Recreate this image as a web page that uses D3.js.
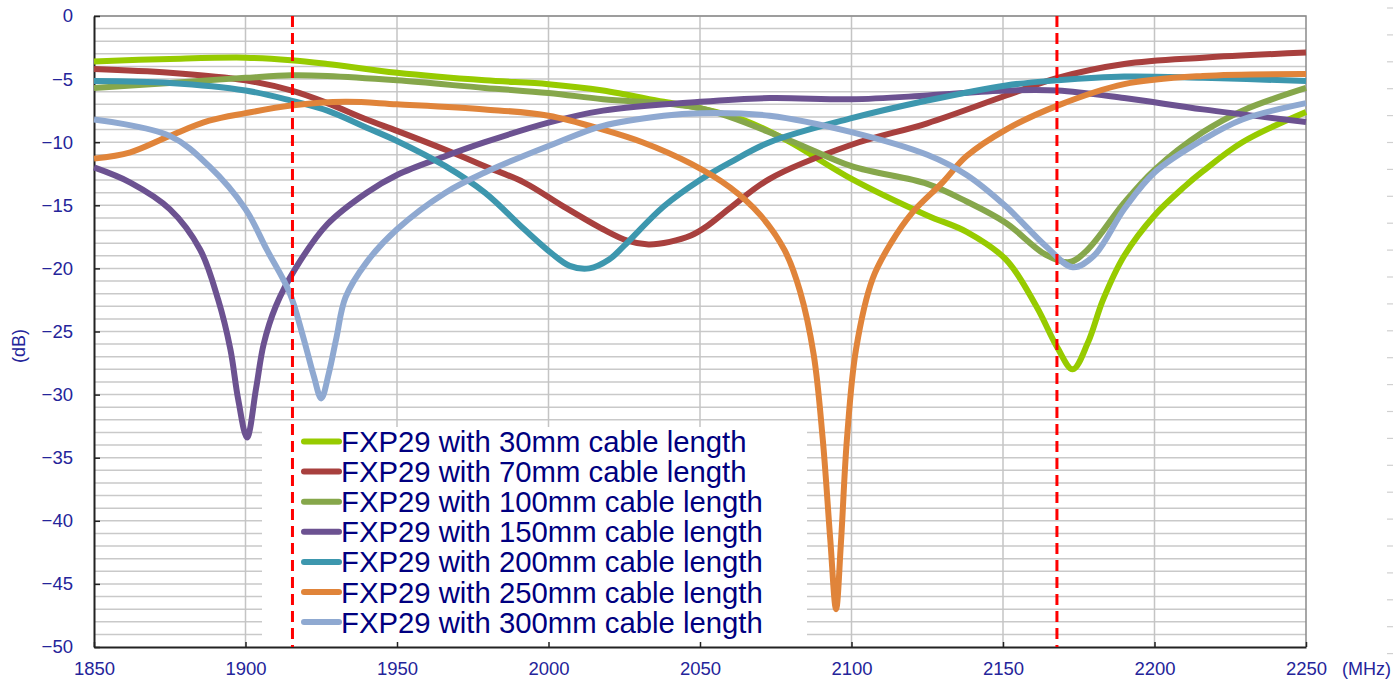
<!DOCTYPE html>
<html><head><meta charset="utf-8">
<script src="https://cdn.jsdelivr.net/npm/d3@7"></script>
<style>html,body{margin:0;padding:0;background:#fff;}svg{display:block;}</style>
</head><body>
<svg id="chart" width="1400" height="681"></svg>
<script>
// ---- data ----
const seriesNames = ["FXP29 with 30mm cable length","FXP29 with 70mm cable length","FXP29 with 100mm cable length","FXP29 with 150mm cable length","FXP29 with 200mm cable length","FXP29 with 250mm cable length","FXP29 with 300mm cable length"];
const seriesColors = ["#97cb00","#a8403e","#86a74b","#6c5291","#3d97ae","#e0843a","#8fa9d1"];

const f30 = [1850,1875,1900,1915,1927,1950,1979,2000,2018,2038,2050,2065,2079,2100,2125,2138,2151,2161,2168,2173,2178,2183,2190,2200,2210,2216,2229,2250];
const v30 = [-3.6,-3.4,-3.3,-3.5,-3.8,-4.5,-5.1,-5.4,-5.9,-6.8,-7.3,-8.3,-9.9,-12.9,-15.8,-17.1,-19.3,-23.0,-26.3,-28.0,-25.9,-22.5,-19.0,-15.8,-13.5,-12.3,-10.0,-7.6];

const f70 = [1850,1875,1900,1915,1927,1940,1950,1966,1979,1992,2005,2018,2026,2033,2040,2047,2052,2060,2073,2100,2125,2151,2168,2190,2216,2250];
const v70 = [-4.2,-4.5,-5.1,-5.9,-6.9,-8.2,-9.1,-10.6,-11.9,-13.2,-15.1,-16.9,-17.8,-18.1,-17.9,-17.4,-16.7,-15.2,-12.9,-10.2,-8.5,-6.3,-4.9,-3.8,-3.3,-2.9];

const f100 = [1850,1875,1900,1915,1927,1950,1979,2000,2018,2050,2079,2100,2125,2138,2151,2164,2172,2178,2190,2200,2216,2229,2250];
const v100 = [-5.7,-5.3,-4.9,-4.7,-4.75,-5.1,-5.7,-6.1,-6.6,-7.3,-9.8,-11.9,-13.3,-14.7,-16.4,-18.9,-19.5,-18.5,-14.8,-12.2,-9.2,-7.5,-5.7];

const f150 = [1850,1862,1875,1885,1891,1895,1897.6,1900.5,1903.5,1906,1910,1916.5,1927,1940,1950,1966,1979,2000,2018,2050,2073,2100,2125,2151,2168,2190,2216,2250];
const v150 = [-12,-13.2,-15.3,-18.5,-22.5,-26.4,-30.4,-33.4,-29.5,-26,-23.0,-20.0,-16.5,-14.0,-12.6,-11.1,-10,-8.45,-7.5,-6.8,-6.5,-6.6,-6.3,-5.9,-5.9,-6.5,-7.4,-8.4];

const f200 = [1850,1875,1900,1915,1927,1940,1950,1966,1979,1992,2001,2007,2013.5,2020,2025,2038,2050,2060,2073,2100,2125,2151,2168,2190,2216,2250];
const v200 = [-5.15,-5.3,-5.9,-6.7,-7.5,-8.85,-9.9,-11.9,-14,-16.9,-18.8,-19.8,-20,-19.3,-18.2,-15.1,-13,-11.6,-10,-8.1,-6.7,-5.5,-5.1,-4.8,-4.9,-5.15];

const f250 = [1850,1862,1875,1888,1900,1915,1933,1950,1979,2000,2018,2031,2047,2060,2070,2078,2083,2087.5,2090.5,2093,2094.9,2096.5,2098.5,2101.5,2107,2113,2120,2130,2138,2151,2168,2190,2216,2250];
const v250 = [-11.3,-10.8,-9.5,-8.3,-7.7,-7.1,-6.8,-7,-7.4,-7.9,-9,-10.0,-11.7,-13.6,-15.8,-18.6,-21.8,-26.8,-33.5,-41.5,-47,-41.8,-33.5,-26.4,-20.8,-18.0,-15.6,-13.2,-11.1,-9,-7.1,-5.4,-4.75,-4.6];

const f300 = [1850,1875,1888,1900,1907,1914.5,1919,1922.5,1925,1927.5,1930,1933,1940,1950,1966,1979,2000,2018,2038,2050,2073,2100,2125,2138,2151,2164,2173,2180,2190,2200,2216,2229,2250];
const v300 = [-8.2,-9.5,-11.9,-15.3,-18.5,-21.9,-25.4,-28.5,-30.3,-28.3,-25.5,-22.3,-19.5,-16.9,-14,-12.4,-10.3,-8.7,-7.9,-7.7,-7.9,-9.2,-11.0,-12.6,-15.1,-18.2,-19.9,-19,-15.3,-12.4,-9.8,-8.2,-6.9];

const seriesFreqs = [f30,f70,f100,f150,f200,f250,f300];
const seriesValues = [v30,v70,v100,v150,v200,v250,v300];

const xTicks = [1850,1900,1950,2000,2050,2100,2150,2200,2250];
const yTicks = [0,-5,-10,-15,-20,-25,-30,-35,-40,-45,-50];
const markerFreqs = [1915.5, 2167.8];
const xUnit = "(MHz)";
const yUnit = "(dB)";

// ---- layout ----
const svg = d3.select("#chart");
const L = 94, R = 1306, T = 16, B = 647;
const x = d3.scaleLinear().domain([1850,2250]).range([L,R]);
const y = d3.scaleLinear().domain([-50,0]).range([B,T]);
const labelColor = "#24249a";
const font = "'Liberation Sans', Arial, sans-serif";

// gridlines
const grid = svg.append("g");
grid.selectAll("line.h").data(d3.range(-49,1,1)).enter().append("line")
  .attr("x1",L).attr("x2",R).attr("y1",d=>y(d)).attr("y2",d=>y(d))
  .attr("stroke","#c9c9c9").attr("stroke-width",1.5);
grid.selectAll("line.v").data(xTicks.slice(1,-1)).enter().append("line")
  .attr("x1",d=>x(d)).attr("x2",d=>x(d)).attr("y1",T).attr("y2",B)
  .attr("stroke","#c4c4c4").attr("stroke-width",1.5);
// top/right border
svg.append("path").attr("d",`M${L},${T}H${R}V${B}`).attr("fill","none").attr("stroke","#8a8a8a").attr("stroke-width",1.5);

// legend background (hides gridlines)
const legX0 = 262, legX1 = 807, legY0 = 427;
svg.append("rect").attr("x",legX0).attr("y",legY0).attr("width",legX1-legX0).attr("height",B-legY0).attr("fill","#fff");

// axes
const xAxis = d3.axisBottom(x).tickValues(xTicks).tickSizeInner(-5).tickSizeOuter(0).tickFormat(d3.format("d"));
const gx = svg.append("g").attr("transform",`translate(0,${B})`).call(xAxis);
gx.select(".domain").attr("stroke","#222").attr("stroke-width",2);
gx.selectAll(".tick line").attr("stroke","#222").attr("stroke-width",1.5);
gx.selectAll(".tick text").attr("y",15).attr("dy","0.71em").attr("fill",labelColor)
  .style("font-family",font).style("font-size","18.5px");

const yAxis = d3.axisLeft(y).tickValues(yTicks).tickSizeInner(-6).tickSizeOuter(0).tickFormat(d3.format("d"));
const gy = svg.append("g").attr("transform",`translate(${L},0)`).call(yAxis);
gy.select(".domain").attr("stroke","#222").attr("stroke-width",2);
gy.selectAll(".tick line").attr("stroke","#222").attr("stroke-width",1.5);
gy.selectAll(".tick text").attr("x",-21).attr("fill",labelColor)
  .style("font-family",font).style("font-size","18.5px");

// unit labels
svg.append("text").attr("x",1342).attr("y",675).attr("fill",labelColor)
  .style("font-family",font).style("font-size","18px").text(xUnit);
svg.append("text").attr("transform","translate(25,346) rotate(-90)").attr("text-anchor","middle")
  .attr("fill",labelColor).style("font-family",font).style("font-size","18px").text(yUnit);

// faint dashes at the far right
svg.append("g").selectAll("line").data(d3.range(0,25)).enter().append("line")
  .attr("x1",1387).attr("x2",1393).attr("y1",d=>8+d*26.9).attr("y2",d=>8+d*26.9)
  .attr("stroke","#d0d0d0").attr("stroke-width",1.2);

// curves
const line = d3.line().x(d=>x(d[0])).y(d=>y(d[1])).curve(d3.curveCatmullRom.alpha(0.5));
const gCurves = svg.append("g");
seriesNames.forEach((name,i)=>{
  const pts = seriesFreqs[i].map((f,j)=>[f,seriesValues[i][j]]);
  gCurves.append("path").datum(pts).attr("d",line)
    .attr("fill","none").attr("stroke",seriesColors[i]).attr("stroke-width",6)
    .attr("stroke-linejoin","round").attr("stroke-linecap","butt");
});

// marker lines
svg.append("g").selectAll("line").data(markerFreqs).enter().append("line")
  .attr("x1",d=>x(d)).attr("x2",d=>x(d)).attr("y1",T).attr("y2",B)
  .attr("stroke","#ff0000").attr("stroke-width",3).attr("stroke-dasharray","11,6");

// legend
const leg = svg.append("g");
seriesNames.forEach((name,i)=>{
  const cy = 441.5 + i*30.1;
  leg.append("line").attr("x1",304).attr("x2",339).attr("y1",cy).attr("y2",cy)
    .attr("stroke",seriesColors[i]).attr("stroke-width",6).attr("stroke-linecap","round");
  leg.append("text").attr("x",341).attr("y",cy).attr("dy","0.36em")
    .attr("fill","#000080").style("font-family",font).style("font-size","29.3px").text(name);
});
</script>
</body></html>
